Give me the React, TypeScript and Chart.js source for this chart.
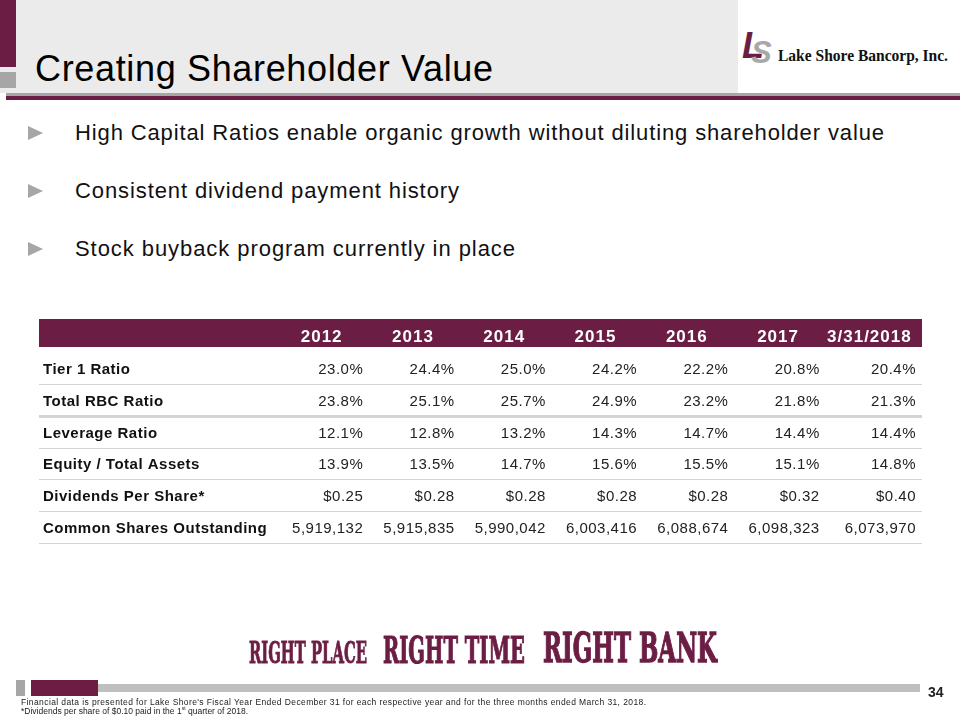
import React, { useEffect, useLayoutEffect, useRef } from "react";
import { Chart, registerables } from "chart.js";

Chart.register(...registerables);

// ---------- data ----------
const periods = ["2012", "2013", "2014", "2015", "2016", "2017", "3/31/2018"];
const rowLabels = [
  "Tier 1 Ratio",
  "Total RBC Ratio",
  "Leverage Ratio",
  "Equity / Total Assets",
  "Dividends Per Share*",
  "Common Shares Outstanding",
];
const tier1Ratio = [23.0, 24.4, 25.0, 24.2, 22.2, 20.8, 20.4];
const totalRbcRatio = [23.8, 25.1, 25.7, 24.9, 23.2, 21.8, 21.3];
const leverageRatio = [12.1, 12.8, 13.2, 14.3, 14.7, 14.4, 14.4];
const equityToAssets = [13.9, 13.5, 14.7, 15.6, 15.5, 15.1, 14.8];
const dividendsPerShare = [0.25, 0.28, 0.28, 0.28, 0.28, 0.32, 0.4];
const sharesOutstanding = [5919132, 5915835, 5990042, 6003416, 6088674, 6098323, 6073970];

const bullets = [
  "High Capital Ratios enable organic growth without diluting shareholder value",
  "Consistent dividend payment history",
  "Stock buyback program currently in place",
];

const pct = (v: number) => v.toFixed(1) + "%";
const usd = (v: number) => "$" + v.toFixed(2);
const int = (v: number) => v.toLocaleString("en-US");

const tableRows: string[][] = [
  tier1Ratio.map(pct),
  totalRbcRatio.map(pct),
  leverageRatio.map(pct),
  equityToAssets.map(pct),
  dividendsPerShare.map(usd),
  sharesOutstanding.map(int),
];

// ---------- styles ----------
const MAROON = "#6c1d44";
const GRAY = "#a6a6a6";
const SANS = '"Liberation Sans", Arial, sans-serif';
const SERIF = '"Liberation Serif", "Times New Roman", serif';
const SLAB = '"DejaVu Serif", "Liberation Serif", serif';
const sepWidths = [1, 3, 1, 1, 1, 1];

type FitProps = {
  left: number;
  baseline: number;
  size: number;
  width?: number;
  family?: string;
  weight?: number;
  italic?: boolean;
  color?: string;
  stroke?: number;
  mode?: "spacing" | "scale";
  children: React.ReactNode;
};

function FitText({
  left,
  baseline,
  size,
  width,
  family = SANS,
  weight = 400,
  italic = false,
  color = "#000",
  stroke = 0,
  mode = "spacing",
  children,
}: FitProps) {
  const ref = useRef<HTMLSpanElement>(null);
  useLayoutEffect(() => {
    const el = ref.current;
    if (!el || !width) return;
    el.style.letterSpacing = "0px";
    el.style.transform = "none";
    const w = el.getBoundingClientRect().width;
    if (mode === "scale") {
      el.style.transform = `scaleX(${width / w})`;
    } else {
      const n = Math.max((el.textContent || "").length - 1, 1);
      el.style.letterSpacing = `${(width - w) / n}px`;
    }
  }, [width, mode]);
  const style: any = {
    position: "absolute",
    left,
    top: baseline - 0.845 * size,
    fontSize: size,
    lineHeight: `${size}px`,
    fontFamily: family,
    fontWeight: weight,
    fontStyle: italic ? "italic" : "normal",
    color,
    whiteSpace: "nowrap",
    transformOrigin: "0 0",
  };
  if (stroke) style.WebkitTextStroke = `${stroke}px ${color}`;
  return (
    <span ref={ref} style={style}>
      {children}
    </span>
  );
}

const box = (s: React.CSSProperties): React.CSSProperties => ({ position: "absolute", ...s });

const tablePlugin = {
  id: "tableCells",
  afterDraw(chart: any) {
    const { ctx, chartArea, scales } = chart;
    const xs = scales.x;
    const ys = scales.y;
    const colW = chartArea.width / periods.length;
    const rowH = chartArea.height / rowLabels.length;
    const tableLeft = 39;
    const tableRight = chartArea.right + 11;
    ctx.save();
    // header band
    ctx.fillStyle = MAROON;
    ctx.fillRect(tableLeft, chartArea.top - 33, tableRight - tableLeft, 28);
    ctx.fillStyle = "#ffffff";
    ctx.font = `bold 17px ${SANS}`;
    (ctx as any).letterSpacing = "1px";
    ctx.textAlign = "center";
    ctx.textBaseline = "alphabetic";
    periods.forEach((p, j) => {
      ctx.fillText(p, xs.getPixelForValue(j) + 4, chartArea.top - 10);
    });
    // rows
    rowLabels.forEach((label, i) => {
      const cy = ys.getPixelForValue(i);
      ctx.fillStyle = "#111111";
      ctx.font = `bold 15px ${SANS}`;
      (ctx as any).letterSpacing = "0.5px";
      ctx.textAlign = "left";
      ctx.fillText(label, tableLeft + 4, cy + 6);
      ctx.fillStyle = "#222222";
      ctx.font = `15px ${SANS}`;
      ctx.textAlign = "right";
      tableRows[i].forEach((val, j) => {
        const extra = j === periods.length - 1 ? 5 : 0;
        ctx.fillText(val, xs.getPixelForValue(j) + colW / 2 + extra, cy + 6);
      });
      ctx.strokeStyle = "#d4d4d4";
      ctx.lineWidth = sepWidths[i];
      const ly = Math.round(cy + rowH / 2) + (sepWidths[i] % 2 ? 0.5 : 0);
      ctx.beginPath();
      ctx.moveTo(tableLeft, ly);
      ctx.lineTo(tableRight, ly);
      ctx.stroke();
    });
    ctx.restore();
  },
};

function TableChart() {
  const canvasRef = useRef<HTMLCanvasElement>(null);
  useEffect(() => {
    const canvas = canvasRef.current;
    if (!canvas) return;
    const chart = new Chart(canvas, {
      type: "bar",
      data: { labels: periods, datasets: [] },
      options: {
        responsive: false,
        animation: false,
        devicePixelRatio: 1,
        layout: { padding: { left: 272, right: 49, top: 352, bottom: 177 } },
        plugins: { legend: { display: false }, tooltip: { enabled: false } },
        scales: {
          x: { type: "category", display: false, offset: true, grid: { display: false } },
          y: { type: "category", labels: rowLabels, display: false, offset: true, grid: { display: false } },
        },
      } as any,
      plugins: [tablePlugin],
    });
    return () => chart.destroy();
  }, []);
  return (
    <canvas
      ref={canvasRef}
      width={960}
      height={720}
      style={{ position: "absolute", left: 0, top: 0, width: 960, height: 720, pointerEvents: "none" }}
    />
  );
}

export default function App() {
  useEffect(() => {
    document.body.style.margin = "0";
  }, []);
  return (
    <div
      style={{
        position: "absolute",
        left: 0,
        top: 0,
        width: 960,
        height: 720,
        overflow: "hidden",
        background: "#ffffff",
        fontFamily: SANS,
      }}
    >
      {/* header */}
      <div style={box({ left: 0, top: 0, width: 738, height: 93, background: "#ebebeb" })} />
      <div style={box({ left: 0, top: 0, width: 16, height: 67, background: MAROON })} />
      <div style={box({ left: 0, top: 72, width: 16, height: 16, background: GRAY })} />
      <div style={box({ left: 6, top: 93, width: 954, height: 3, background: GRAY })} />
      <div style={box({ left: 6, top: 96, width: 954, height: 4, background: MAROON })} />
      <FitText left={35} baseline={81} size={36} width={458}>
        Creating Shareholder Value
      </FitText>

      {/* logo */}
      <FitText left={742} baseline={58} size={36} weight={700} italic color={MAROON}>
        L
      </FitText>
      <FitText left={751} baseline={63} size={31} weight={700} italic color="#a8a8a8">
        S
      </FitText>
      <FitText left={778} baseline={61} size={17} width={170} family={SERIF} weight={700} color="#111" mode="scale">
        Lake Shore Bancorp, Inc.
      </FitText>

      {/* bullets */}
      {bullets.map((b, i) => (
        <React.Fragment key={i}>
          <div
            style={box({
              left: 28,
              top: 126 + i * 58,
              width: 0,
              height: 0,
              borderLeft: `15px solid ${GRAY}`,
              borderTop: "7px solid transparent",
              borderBottom: "7px solid transparent",
            })}
          />
          <FitText left={75} baseline={141 + i * 58} size={22} width={[809, 384, 440][i]} color="#111">
            {b}
          </FitText>
        </React.Fragment>
      ))}

      <TableChart />

      {/* slogan */}
      <FitText left={249} baseline={663} size={30} width={118} family={SLAB} weight={700} color={MAROON} stroke={1} mode="scale">
        RIGHT PLACE
      </FitText>
      <FitText left={383} baseline={663} size={37} width={142} family={SLAB} weight={700} color={MAROON} stroke={1.2} mode="scale">
        RIGHT TIME
      </FitText>
      <FitText left={543} baseline={663} size={41} width={174} family={SLAB} weight={700} color={MAROON} stroke={1.4} mode="scale">
        RIGHT BANK
      </FitText>

      {/* footer */}
      <div style={box({ left: 16, top: 680, width: 9, height: 16, background: GRAY })} />
      <div style={box({ left: 31, top: 680, width: 67, height: 16, background: MAROON })} />
      <div style={box({ left: 98, top: 684, width: 822, height: 8, background: "#bfbfbf" })} />
      <FitText left={928} baseline={697} size={14} weight={700} color="#222">
        34
      </FitText>
      <FitText left={21} baseline={705} size={8.5} width={625} color="#222">
        Financial data is presented for Lake Shore's Fiscal Year Ended December 31 for each respective year and for the three months ended March 31, 2018.
      </FitText>
      <FitText left={21} baseline={714} size={8.5} color="#222">
        *Dividends per share of $0.10 paid in the 1<sup style={{ fontSize: "0.6em", lineHeight: 0, verticalAlign: "super" }}>st</sup> quarter of 2018.
      </FitText>
    </div>
  );
}
